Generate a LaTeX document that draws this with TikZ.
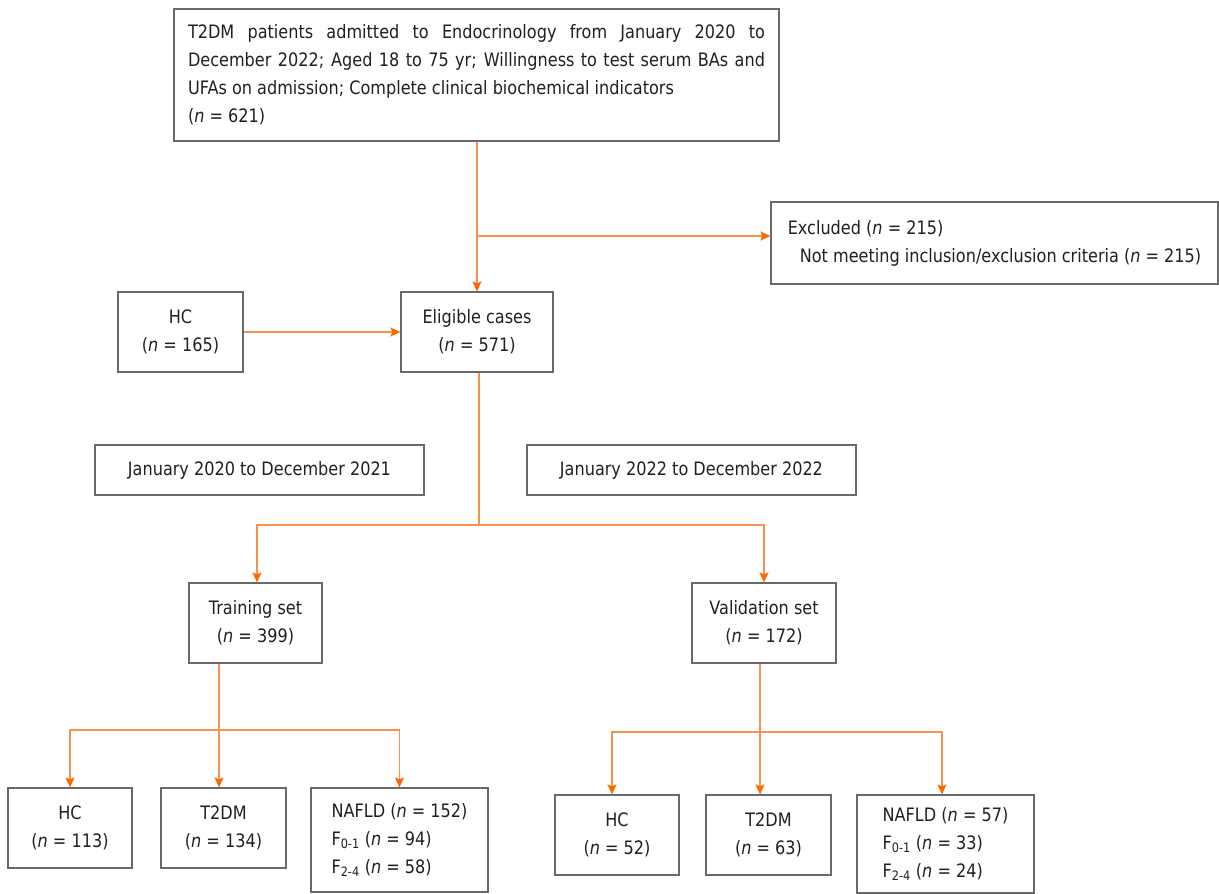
\documentclass[tikz,border=0pt]{standalone}
\usepackage{fontspec}
\setmainfont{DejaVu Sans}[FakeStretch=0.87]
\usetikzlibrary{arrows.meta}
\definecolor{linec}{RGB}{246,145,80}
\definecolor{tipc}{RGB}{255,102,0}
\definecolor{boxc}{RGB}{105,105,105}
\definecolor{txtc}{RGB}{35,31,32}
\newcommand{\nn}{\textit{n}}
\newcommand{\jline}[1]{\makebox[577pt][s]{#1}}
\begin{document}
\begin{tikzpicture}[x=1pt,y=-1pt,
  font=\fontsize{18.5}{28}\selectfont,
  box/.style={draw=boxc,line width=1.2pt,text=txtc,align=center,inner sep=0pt,
    minimum height=80pt},
  conn/.style={draw=linec,line width=1.2pt},
  arr/.style={conn,-{Stealth[length=10pt,width=9pt,inset=2pt,color=tipc]}}]
\useasboundingbox (0,0) rectangle (1219,894);
\fill[white] (0,0) rectangle (1219,894);
% nodes
\node[box,minimum width=605pt,minimum height=132pt,align=left] (top) at (476.5,75)
  {\jline{T2DM patients admitted to Endocrinology from January 2020 to}\\
   \jline{December 2022; Aged 18 to 75 yr; Willingness to test serum BAs and}\\
   UFAs on admission; Complete clinical biochemical indicators\\(\nn{} = 621)};
\node[box,minimum width=447pt,minimum height=82pt,align=left] (excl) at (994.5,243)
  {Excluded (\nn{} = 215)\\\hspace*{12pt}Not meeting inclusion/exclusion criteria (\nn{} = 215)};
\node[box,minimum width=125pt] (hc1) at (180.5,332) {HC\\(\nn{} = 165)};
\node[box,minimum width=152pt] (elig) at (477,332) {Eligible cases\\(\nn{} = 571)};
\node[box,minimum width=329pt,minimum height=50pt] (jan1) at (259.5,470) {January 2020 to December 2021};
\node[box,minimum width=329pt,minimum height=50pt] (jan2) at (691.5,470) {January 2022 to December 2022};
\node[box,minimum width=133pt] (train) at (255.5,623) {Training set\\(\nn{} = 399)};
\node[box,minimum width=144pt] (valid) at (764,623) {Validation set\\(\nn{} = 172)};
\node[box,minimum width=124pt] (hc2) at (70,828) {HC\\(\nn{} = 113)};
\node[box,minimum width=125pt] (td2) at (223.5,828) {T2DM\\(\nn{} = 134)};
\node[box,minimum width=177pt,minimum height=104pt,align=left] (nf2) at (399.5,840)
  {NAFLD (\nn{} = 152)\\F\textsubscript{0-1} (\nn{} = 94)\\F\textsubscript{2-4} (\nn{} = 58)};
\node[box,minimum width=124pt] (hc3) at (617,835) {HC\\(\nn{} = 52)};
\node[box,minimum width=125pt] (td3) at (768.5,835) {T2DM\\(\nn{} = 63)};
\node[box,minimum width=177pt,minimum height=98pt,align=left] (nf3) at (945.5,844)
  {NAFLD (\nn{} = 57)\\F\textsubscript{0-1} (\nn{} = 33)\\F\textsubscript{2-4} (\nn{} = 24)};
% junction coordinates
\coordinate (j0) at (477,236);
\coordinate (j1) at (479,525);
\coordinate (j2) at (219,730);
\coordinate (j3) at (760,732);
% connectors
\draw[arr] (top.south -| j0) -- (elig.north -| j0);
\draw[arr] (j0) -- (excl.west |- j0);
\draw[arr] (hc1.east) -- (elig.west);
\draw[conn] (elig.south -| j1) -- (j1);
\draw[arr] (j1) -| ([xshift=1.5pt]train.north);
\draw[arr] (j1) -| (valid.north);
\draw[conn] (train.south -| j2) -- (j2);
\draw[arr] (j2) -- (td2.north -| j2);
\draw[arr] (j2) -| (hc2.north);
\draw[arr] (j2) -| (nf2.north);
\draw[conn] (valid.south -| j3) -- (j3);
\draw[arr] (j3) -- (td3.north -| j3);
\draw[arr] (j3) -| ([xshift=-5pt]hc3.north);
\draw[arr] (j3) -| ([xshift=-3.5pt]nf3.north);
\end{tikzpicture}
\end{document}
